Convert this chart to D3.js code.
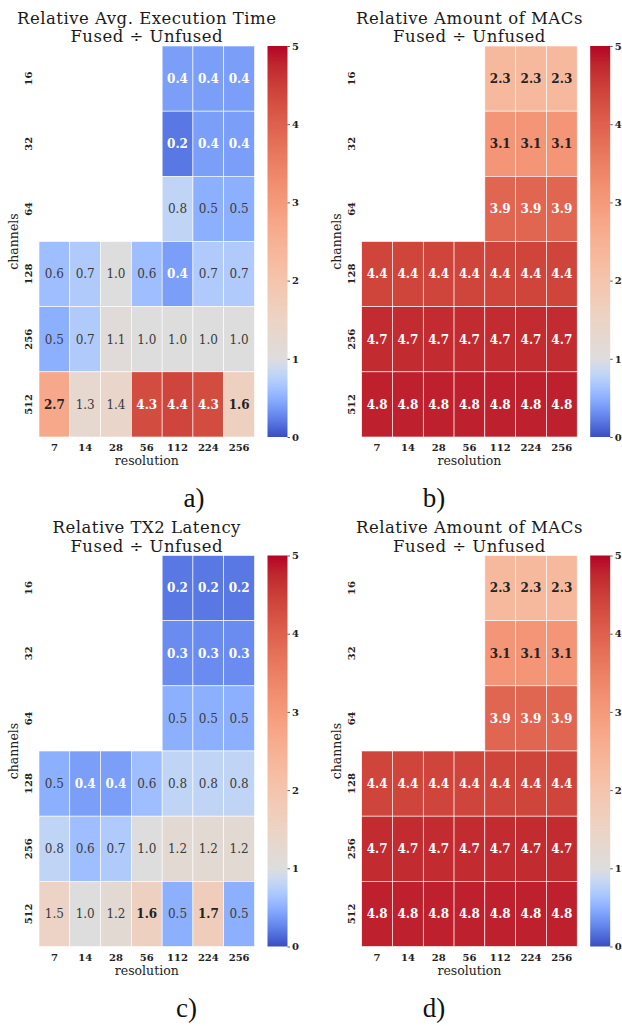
<!DOCTYPE html>
<html>
<head>
<meta charset="utf-8">
<script src="https://cdn.jsdelivr.net/npm/d3@7"></script>
<style>
  body { margin: 0; background: #fff; }
  svg { display: block; font-family: "DejaVu Serif", serif; }
</style>
</head>
<body>
<script>
// data
const resolutions = [7, 14, 28, 56, 112, 224, 256];
const channels = [16, 32, 64, 128, 256, 512];

const execTime = [
  [null, null, null, null, 0.4, 0.4, 0.4],
  [null, null, null, null, 0.2, 0.4, 0.4],
  [null, null, null, null, 0.8, 0.5, 0.5],
  [0.6, 0.7, 1.0, 0.6, 0.4, 0.7, 0.7],
  [0.5, 0.7, 1.1, 1.0, 1.0, 1.0, 1.0],
  [2.7, 1.3, 1.4, 4.3, 4.4, 4.3, 1.6]
];
const macs = [
  [null, null, null, null, 2.3, 2.3, 2.3],
  [null, null, null, null, 3.1, 3.1, 3.1],
  [null, null, null, null, 3.9, 3.9, 3.9],
  [4.4, 4.4, 4.4, 4.4, 4.4, 4.4, 4.4],
  [4.7, 4.7, 4.7, 4.7, 4.7, 4.7, 4.7],
  [4.8, 4.8, 4.8, 4.8, 4.8, 4.8, 4.8]
];
const tx2Latency = [
  [null, null, null, null, 0.2, 0.2, 0.2],
  [null, null, null, null, 0.3, 0.3, 0.3],
  [null, null, null, null, 0.5, 0.5, 0.5],
  [0.5, 0.4, 0.4, 0.6, 0.8, 0.8, 0.8],
  [0.8, 0.6, 0.7, 1.0, 1.2, 1.2, 1.2],
  [1.5, 1.0, 1.2, 1.6, 0.5, 1.7, 0.5]
];

const titles = ["Relative Avg. Execution Time", "Relative Amount of MACs", "Relative TX2 Latency", "Relative Amount of MACs"];
const subtitle = "Fused \u00F7 Unfused";
const letters = ["a)", "b)", "c)", "d)"];
const cbarTicks = [0, 1, 2, 3, 4, 5];

// coolwarm table (33 steps)
const coolwarmTable = [
  [59,76,192],[68,90,204],[77,104,215],[87,117,225],[98,130,234],[108,142,241],[119,154,247],[130,165,251],
  [141,176,254],[152,185,255],[163,194,255],[174,201,253],[184,208,249],[194,213,244],[204,217,238],[213,219,230],
  [221,221,221],[229,216,209],[236,211,197],[241,204,185],[245,196,173],[247,187,160],[247,177,148],[247,166,135],
  [244,154,123],[241,141,111],[236,127,99],[229,112,88],[222,96,77],[213,80,66],[203,62,56],[192,40,47],[180,4,38]
];
const coolwarm = d3.scaleLinear()
  .domain(coolwarmTable.map((c, i) => i / 32))
  .range(coolwarmTable.map(c => d3.rgb(c[0], c[1], c[2])))
  .interpolate(d3.interpolateRgb)
  .clamp(true);

// two-slope norm, centred on 1
const norm = v => v < 1 ? v * 0.5 : 0.5 + (v - 1) / 8;
const colorOf = v => coolwarm(norm(v));

function luminance(c) {
  const lin = [c.r, c.g, c.b].map(u => {
    u = u / 255;
    return u <= 0.03928 ? u / 12.92 : Math.pow((u + 0.055) / 1.055, 2.4);
  });
  return 0.2126 * lin[0] + 0.7152 * lin[1] + 0.0722 * lin[2];
}

const W = 215.5, H = 391;
const panels = [
  { x: 39, y: 46, data: execTime, lx: 194, ly: 507 },
  { x: 361.7, y: 46, data: macs, lx: 434, ly: 507 },
  { x: 39, y: 555.5, data: tx2Latency, lx: 186.5, ly: 1016.5 },
  { x: 361.7, y: 555.5, data: macs, lx: 434, ly: 1016.5 }
];

const svg = d3.select('body').append('svg').attr('width', 622).attr('height', 1026);

// gradient for colorbars
const grad = svg.append('defs').append('linearGradient')
  .attr('id', 'cbar').attr('x1', 0).attr('y1', 1).attr('x2', 0).attr('y2', 0);
d3.range(0, 5.0001, 0.05).forEach(v => {
  grad.append('stop').attr('offset', v / 5).attr('stop-color', colorOf(v));
});

panels.forEach((p, k) => {
  const g = svg.append('g').attr('transform', `translate(${p.x},${p.y})`);
  const x = d3.scaleBand().domain(resolutions).range([0, W]);
  const y = d3.scaleBand().domain(channels).range([0, H]);

  const cells = [];
  p.data.forEach((row, i) => row.forEach((v, j) => {
    if (v != null) cells.push({ c: channels[i], r: resolutions[j], v: v });
  }));

  g.selectAll('rect.cell').data(cells).join('rect')
    .attr('class', 'cell')
    .attr('x', d => x(d.r))
    .attr('y', d => y(d.c))
    .attr('width', x.bandwidth())
    .attr('height', y.bandwidth())
    .attr('fill', d => colorOf(d.v))
    .attr('stroke', '#fff')
    .attr('stroke-width', 0.6);

  g.selectAll('text.val').data(cells).join('text')
    .attr('class', 'val')
    .attr('x', d => x(d.r) + x.bandwidth() / 2)
    .attr('y', d => y(d.c) + y.bandwidth() / 2)
    .attr('dy', '0.36em')
    .attr('text-anchor', 'middle')
    .attr('font-size', 12)
    .each(function (d) {
      const white = luminance(d3.rgb(colorOf(d.v))) <= 0.408;
      d3.select(this)
        .attr('fill', white ? '#fff' : (d.v >= 1.55 ? '#222' : '#3a3a3a'))
        .attr('font-weight', white || d.v >= 1.55 ? 'bold' : 'normal');
    })
    .text(d => d.v.toFixed(1));

  // axes
  const ax = g.append('g').attr('transform', `translate(0,${H})`)
    .call(d3.axisBottom(x).tickSize(0).tickPadding(7));
  ax.select('.domain').remove();
  ax.selectAll('text').attr('font-family', '"DejaVu Serif", serif')
    .attr('font-size', 10).attr('font-weight', 'bold').attr('fill', '#222');

  const ay = g.append('g').call(d3.axisLeft(y).tickSize(0).tickPadding(0));
  ay.select('.domain').remove();
  ay.selectAll('text')
    .attr('font-family', '"DejaVu Serif", serif')
    .attr('font-size', 10).attr('font-weight', 'bold').attr('fill', '#222')
    .attr('text-anchor', 'middle')
    .attr('x', 0).attr('dy', 0)
    .attr('transform', 'translate(-7,0) rotate(-90)');

  g.append('text')
    .attr('x', W / 2).attr('y', H + 28)
    .attr('text-anchor', 'middle').attr('font-size', 12.5).attr('fill', '#222')
    .text('resolution');
  g.append('text')
    .attr('transform', `translate(-20.7,${H / 2}) rotate(-90)`)
    .attr('text-anchor', 'middle').attr('font-size', 12.5).attr('fill', '#222')
    .text('channels');

  // title
  g.append('text')
    .attr('x', W / 2).attr('y', -22.5)
    .attr('text-anchor', 'middle').attr('font-size', 16.5).attr('letter-spacing', 0.5).attr('fill', '#1a1a1a')
    .text(titles[k]);
  g.append('text')
    .attr('x', W / 2).attr('y', -4)
    .attr('text-anchor', 'middle').attr('font-size', 16.5).attr('letter-spacing', 0.5).attr('fill', '#1a1a1a')
    .text(subtitle);

  // colorbar
  const cb = g.append('g').attr('transform', `translate(${W + 13},0)`);
  cb.append('rect').attr('width', 20).attr('height', H).attr('fill', 'url(#cbar)');
  const cs = d3.scaleLinear().domain([0, 5]).range([H, 0]);
  const cax = cb.append('g').attr('transform', 'translate(20,0)')
    .call(d3.axisRight(cs).tickValues(cbarTicks).tickSize(2.5).tickPadding(2).tickFormat(d3.format('d')));
  cax.select('.domain').remove();
  cax.selectAll('line').attr('stroke', '#333').attr('stroke-width', 0.8);
  cax.selectAll('text').attr('font-family', '"DejaVu Serif", serif')
    .attr('font-size', 10).attr('font-weight', 'bold').attr('fill', '#222');

  // panel letter
  svg.append('text')
    .attr('x', p.lx).attr('y', p.ly)
    .attr('text-anchor', 'middle')
    .attr('font-family', '"Liberation Serif", serif')
    .attr('font-size', 27).attr('fill', '#111')
    .text(letters[k]);
});
</script>
</body>
</html>
